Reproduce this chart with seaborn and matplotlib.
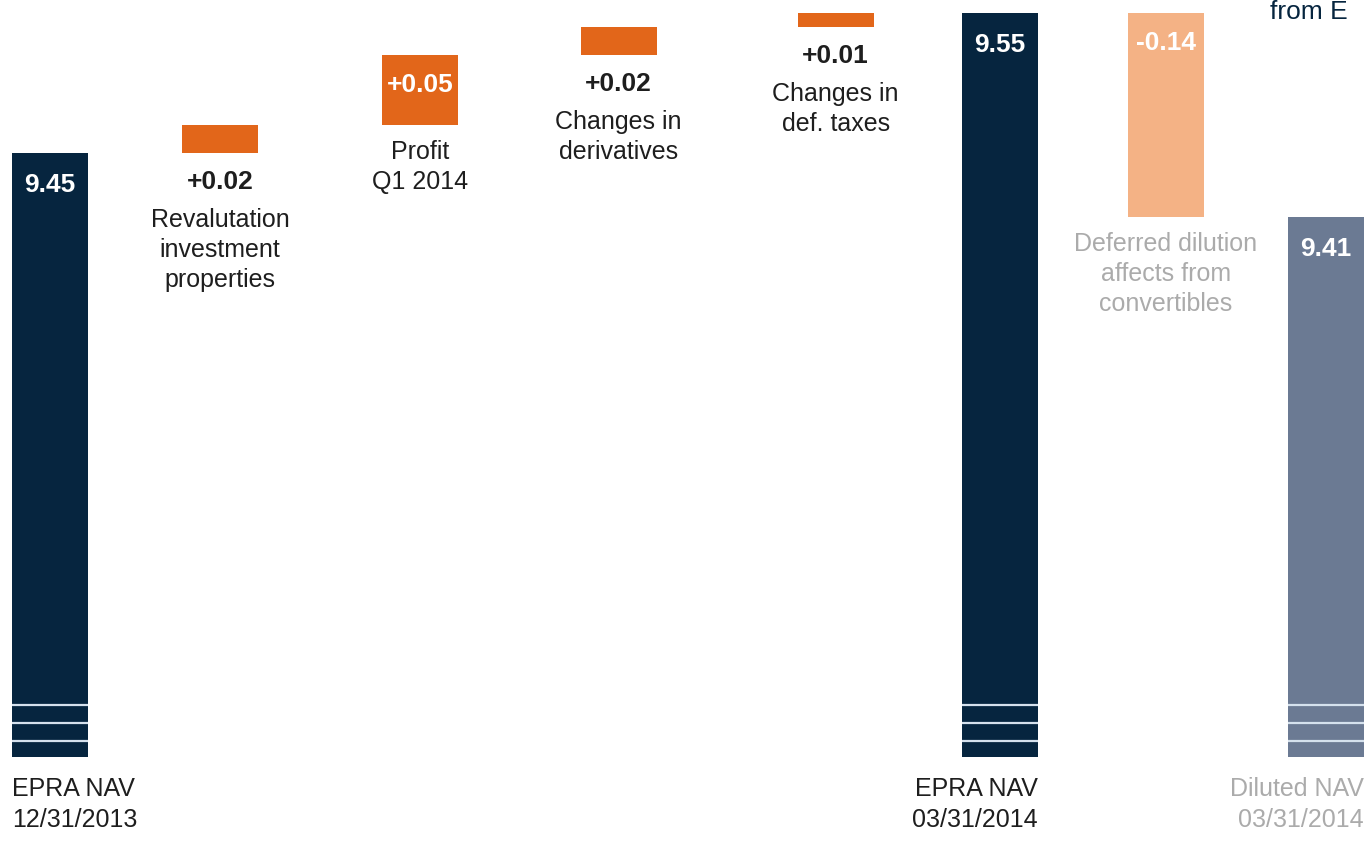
import matplotlib
matplotlib.use("Agg")
import matplotlib.pyplot as plt
import seaborn as sns

# ---------------- data ----------------
line1 = ["EPRA NAV", "Revalutation", "Profit", "Changes in", "Changes in",
         "EPRA NAV", "Deferred dilution", "Diluted NAV"]
line2 = ["12/31/2013", "investment", "Q1 2014", "derivatives", "def. taxes",
         "03/31/2014", "affects from", "03/31/2014"]
line3 = ["", "properties", "", "", "", "", "convertibles", ""]
kinds = ["total", "delta", "delta", "delta", "delta", "total", "delta", "total"]
values = [9.45, 0.02, 0.05, 0.02, 0.01, 9.55, -0.146, 9.404]
value_labels = ["9.45", "+0.02", "+0.05", "+0.02", "+0.01", "9.55", "-0.14", "9.41"]

# ---------------- layout / style ----------------
slot_x = [0, 0.933, 2.03, 3.12, 4.31, 5.21, 6.12, 7.0]
bar_w = 0.417
axis_base = 9.0186           # broken value axis starts here
break_offsets = [0.0114, 0.024, 0.0371]
navy = "#06253f"
orange = "#e2661a"
light_orange = "#f4b285"
slate = "#6b7a93"
dark_text = "#1e1e1e"
grey_text = "#ababab"
colors = [navy, orange, orange, orange, orange, navy, light_orange, slate]
value_inside = [True, False, True, False, False, True, True, True]
label_colors = [dark_text, dark_text, dark_text, dark_text, dark_text,
                dark_text, grey_text, grey_text]
bottom_align = ["left", None, None, None, None, "right", None, "right"]

sns.set_theme(style="white")
plt.rcParams["font.family"] = ["Liberation Sans", "DejaVu Sans"]

fig = plt.figure(figsize=(13.66, 8.48), dpi=100)
ax = fig.add_axes([0, 0, 1, 1])

running = 0.0
bars = []
for i, (k, v) in enumerate(zip(kinds, values)):
    if k == "total":
        lo, hi = axis_base, v
        running = v
    else:
        lo, hi = sorted([running, running + v])
        running = running + v
    bars.append((lo, hi))
    sns.barplot(x=[slot_x[i]], y=[hi - lo], bottom=lo, native_scale=True,
                width=bar_w, color=colors[i], saturation=1, linewidth=0,
                errorbar=None, ax=ax)

# break marks on the full bars
for i, k in enumerate(kinds):
    if k == "total":
        for off in break_offsets:
            ax.hlines(axis_base + off, slot_x[i] - bar_w / 2, slot_x[i] + bar_w / 2,
                      color="#d5e1ed", lw=1.6, zorder=5)

ax.set_xlim(-0.274, 7.219)
ax.set_ylim(8.9536, 9.5593)
ax.axis("off")

val_fs = 19
lab_fs = 18


def put(x, y, dy, s, **kw):
    ax.annotate(s, xy=(x, y), xytext=(0, dy), textcoords="offset pixels",
                ha=kw.pop("ha", "center"), va="center", **kw)


for i, k in enumerate(kinds):
    x = slot_x[i]
    lo, hi = bars[i]
    lines = [l for l in (line1[i], line2[i], line3[i]) if l]
    if k == "total":
        put(x, hi, -32, value_labels[i], color="white", fontsize=val_fs,
            fontweight="bold")
        ha = bottom_align[i]
        xa = x - bar_w / 2 if ha == "left" else x + bar_w / 2
        for j, l in enumerate(lines):
            put(xa, lo, -32 - 31 * j, l, ha=ha, color=label_colors[i],
                fontsize=lab_fs)
    else:
        if value_inside[i]:
            put(x, hi, -30, value_labels[i], color="white", fontsize=val_fs,
                fontweight="bold")
            start = -27
        else:
            put(x, lo, -29, value_labels[i], color=dark_text, fontsize=val_fs,
                fontweight="bold")
            start = -67
        for j, l in enumerate(lines):
            put(x, lo, start - 30 * j, l, color=label_colors[i], fontsize=lab_fs)

fig.text(1270 / 1366, 1 - 19 / 848, "from E", color=navy, fontsize=19,
         va="baseline", ha="left")

fig.savefig("out.png", dpi=100, facecolor="white")
